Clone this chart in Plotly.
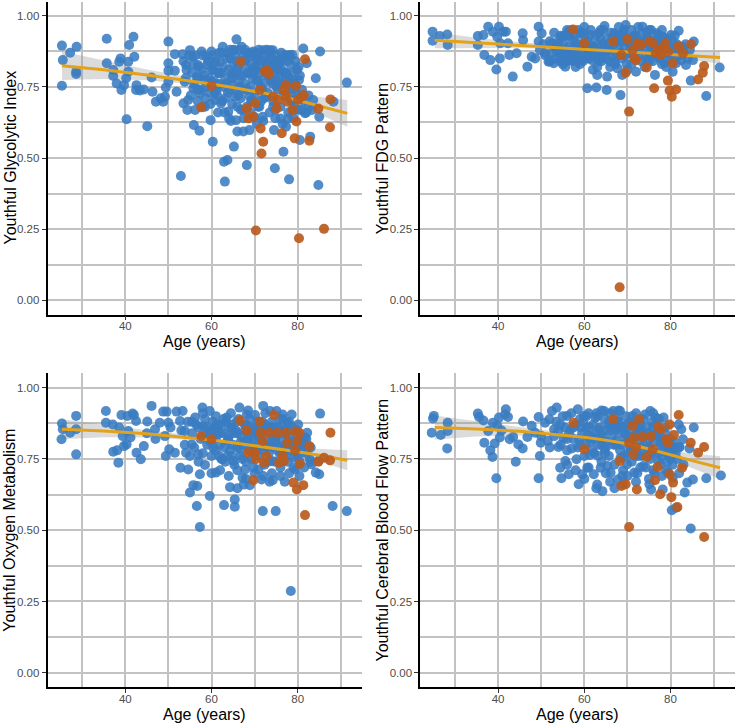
import plotly.graph_objects as go

# ---------------- DATA ----------------
x_ticks = [40, 60, 80]
y_ticks = [0.0, 0.25, 0.5, 0.75, 1.0]
titles = ["Youthful Glycolytic Index", "Youthful FDG Pattern",
          "Youthful Oxygen Metabolism", "Youthful Cerebral Blood Flow Pattern"]
x_title = "Age (years)"

glyco_blue = [(25.3,0.895),(25.5,0.844),(25.3,0.754),(27.2,0.870),(28.7,0.891),(28.6,0.803),(28.6,0.795),(35.7,0.919),(35.7,0.833),(37.2,0.809),(37.2,0.788),(38.0,0.762),(38.6,0.838),(38.9,0.850),(39.1,0.739),(39.7,0.756),(40.2,0.780),(40.3,0.636),(40.7,0.803),(40.9,0.897),(40.7,0.838),(41.9,0.926),(42.1,0.856),(42.6,0.756),(42.5,0.739),(43.4,0.737),(44.3,0.741),(45.1,0.612),(46.1,0.783),(46.3,0.733),(47.1,0.698),(48.2,0.710),(48.8,0.698),(49.2,0.715),(49.4,0.748),(50.0,0.909),(50.0,0.833),(50.0,0.807),(50.0,0.768),(51.5,0.865),(51.5,0.807),(51.9,0.733),(52.9,0.437),(53.3,0.865),(53.5,0.692),(53.8,0.768),(54.1,0.827),(54.2,0.809),(54.6,0.704),(54.4,0.669),(55.0,0.879),(55.6,0.856),(55.8,0.745),(55.9,0.616),(56.2,0.669),(56.6,0.786),(56.9,0.827),(57.2,0.596),(57.3,0.727),(57.7,0.874),(58.1,0.774),(58.5,0.680),(58.9,0.856),(59.0,0.827),(59.5,0.780),(59.8,0.633),(60.0,0.874),(60.3,0.557),(60.4,0.809),(60.8,0.704),(61.2,0.739),(61.6,0.797),(62.0,0.838),(62.2,0.692),(62.6,0.891),(62.9,0.487),(63.1,0.417),(63.5,0.762),(63.7,0.493),(63.9,0.663),(64.1,0.639),(64.3,0.850),(64.7,0.797),(65.1,0.879),(65.2,0.540),(65.4,0.715),(65.7,0.633),(65.8,0.917),(66.0,0.593),(66.2,0.821),(66.6,0.751),(67.0,0.891),(67.2,0.669),(67.4,0.593),(67.8,0.844),(68.2,0.475),(68.3,0.739),(68.5,0.868),(68.8,0.598),(68.9,0.797),(69.3,0.704),(69.7,0.874),(69.9,0.645),(70.1,0.821),(70.5,0.774),(70.9,0.850),(71.1,0.680),(71.4,0.751),(71.9,0.645),(72.0,0.879),(72.4,0.809),(72.8,0.715),(73.2,0.844),(73.6,0.879),(74.0,0.774),(74.2,0.879),(74.3,0.680),(74.5,0.598),(74.7,0.464),(75.1,0.751),(75.5,0.809),(75.9,0.833),(76.0,0.639),(76.3,0.850),(76.7,0.522),(76.8,0.721),(77.0,0.862),(77.3,0.610),(77.4,0.797),(77.8,0.639),(78.0,0.425),(78.2,0.862),(78.3,0.762),(78.6,0.704),(78.8,0.862),(78.9,0.774),(79.3,0.669),(79.7,0.727),(80.3,0.774),(80.5,0.563),(80.9,0.669),(81.3,0.885),(81.7,0.657),(82.1,0.833),(82.5,0.680),(82.9,0.575),(83.3,0.669),(83.6,0.704),(84.2,0.780),(84.8,0.405),(85.0,0.645),(85.2,0.874),(88.3,0.698),(91.4,0.765),
(53.5,0.84),(54.0,0.78),(54.8,0.86),(55.2,0.72),(55.5,0.80),(56.0,0.76),(56.3,0.86),(56.8,0.70),(57.0,0.82),(57.5,0.74),(58.0,0.86),(58.3,0.79),(58.7,0.71),(59.2,0.84),(59.5,0.73),(60.2,0.86),(60.5,0.77),(61.0,0.84),(61.3,0.72),(61.7,0.80),(62.0,0.76),(62.3,0.87),(62.5,0.70),(62.8,0.82),(63.2,0.78),(63.5,0.85),(63.8,0.73),(64.0,0.81),(64.3,0.88),(64.5,0.76),(64.8,0.69),(65.0,0.83),(65.3,0.79),(65.5,0.86),(65.8,0.74),(66.0,0.81),(66.3,0.77),(66.5,0.88),(66.8,0.71),(67.0,0.84),(67.3,0.79),(67.5,0.86),(67.8,0.76),(68.0,0.82),(68.2,0.68),(68.5,0.80),(68.8,0.87),(69.0,0.75),(69.3,0.83),(69.5,0.78),(69.8,0.86),(70.0,0.72),(70.3,0.81),(70.5,0.85),(70.8,0.77),(71.0,0.88),(71.3,0.80),(71.5,0.70),(71.8,0.84),(72.0,0.76),(72.3,0.86),(72.5,0.79),(72.8,0.83),(73.0,0.73),(73.3,0.87),(73.5,0.81),(73.8,0.77),(74.0,0.85),(74.3,0.70),(74.5,0.82),(74.8,0.78),(75.0,0.86),(75.3,0.74),(75.5,0.83),(75.8,0.79),(76.0,0.68),(76.3,0.81),(76.5,0.76),(76.8,0.85),(77.0,0.72),(77.3,0.80),(77.5,0.84),(77.8,0.66),(78.0,0.78),(78.3,0.83),(78.5,0.70),(78.8,0.80),(79.0,0.64),(79.3,0.76),(79.5,0.84),(80.0,0.71),(80.3,0.67),(80.5,0.79),(81.0,0.74),(81.5,0.70),(82.0,0.66),(82.5,0.72),(63.0,0.66),(64.5,0.63),(66.0,0.68),(67.5,0.64),(69.0,0.66),(70.5,0.62),(72.0,0.63),(73.5,0.66),(74.8,0.64),(76.5,0.62),(58.0,0.68),(59.8,0.69),(61.5,0.66),(60.0,0.81),(57.0,0.78)]
glyco_blue_extra = [(60.8,0.83),(61.8,0.87),(62.8,0.75),(63.8,0.87),(64.8,0.78),(65.8,0.84),(66.8,0.79),(67.8,0.88),(68.8,0.72),(69.8,0.80),(70.8,0.86),(71.8,0.74),(72.8,0.88),(73.8,0.82),(74.8,0.84),(75.8,0.76),(76.8,0.80),(77.8,0.86),(78.8,0.74),(79.8,0.81),(61.2,0.76),(62.2,0.80),(63.2,0.71),(64.2,0.74),(65.2,0.88),(66.2,0.72),(67.2,0.74),(68.2,0.85),(69.2,0.70),(70.2,0.87),(71.2,0.83),(72.2,0.71),(73.2,0.79),(74.2,0.76),(75.2,0.81),(76.2,0.87),(77.2,0.78),(78.2,0.74),(79.2,0.70),(80.2,0.82),(55.8,0.83),(57.8,0.81),(59.8,0.77),(56.8,0.74),(58.8,0.75),(60.8,0.73),(66.8,0.67),(70.8,0.68),(74.8,0.67),(78.8,0.67)]

glyco_orange = [(57.6,0.678),(60.0,0.753),(66.8,0.838),(70.3,0.245),(68.2,0.674),(68.6,0.639),(69.7,0.645),(70.1,0.692),(71.2,0.739),(71.4,0.604),(72.0,0.557),(71.6,0.516),(72.4,0.803),(72.8,0.809),(73.4,0.795),(74.3,0.715),(75.1,0.674),(75.5,0.704),(76.3,0.587),(76.7,0.739),(77.3,0.756),(77.3,0.721),(77.6,0.698),(78.8,0.669),(79.3,0.569),(79.6,0.753),(79.7,0.628),(80.1,0.704),(80.3,0.218),(80.9,0.715),(81.4,0.721),(81.7,0.847),(82.7,0.561),(84.8,0.674),(86.1,0.251),(87.5,0.608),(87.6,0.706)]

fdg_blue = [(24.8,0.944),(24.8,0.912),(26.5,0.929),(28.2,0.934),(28.3,0.897),(35.3,0.929),(35.3,0.897),(36.6,0.932),(36.8,0.862),(37.7,0.961),(38.2,0.844),(38.8,0.944),(39.6,0.811),(39.8,0.926),(40.2,0.961),(40.4,0.850),(40.5,0.903),(41.2,0.944),(41.8,0.944),(42.3,0.903),(42.6,0.862),(43.4,0.786),(44.3,0.868),(45.7,0.938),(45.8,0.914),(46.8,0.821),(47.8,0.856),(48.6,0.850),(49.4,0.961),(49.4,0.909),(49.7,0.879),(50.1,0.938),(50.9,0.868),(51.7,0.838),(52.5,0.903),(52.9,0.833),(53.6,0.891),(54.4,0.856),(54.8,0.926),(55.6,0.821),(56.0,0.879),(56.4,0.944),(56.8,0.844),(57.5,0.914),(57.9,0.862),(58.3,0.891),(59.1,0.938),(59.5,0.856),(59.9,0.903),(60.7,0.745),(61.0,0.879),(61.4,0.932),(61.8,0.844),(62.2,0.891),(62.8,0.748),(63.0,0.792),(63.4,0.856),(63.8,0.950),(64.2,0.903),(64.7,0.964),(65.2,0.739),(65.3,0.786),(65.7,0.879),(66.1,0.838),(66.9,0.938),(67.3,0.909),(67.7,0.815),(68.4,0.721),(68.8,0.792),(69.2,0.950),(69.6,0.967),(70.0,0.868),(70.8,0.903),(71.6,0.926),(72.0,0.803),(72.7,0.879),(73.5,0.961),(73.9,0.914),(74.5,0.844),(75.1,0.950),(75.9,0.891),(76.4,0.792),(76.9,0.938),(77.2,0.856),(77.8,0.903),(78.2,0.926),(78.6,0.833),(79.4,0.868),(80.1,0.932),(80.5,0.803),(81.3,0.833),(81.9,0.947),(82.5,0.844),(82.9,0.891),(83.6,0.827),(84.7,0.772),(85.2,0.844),(85.4,0.909),(88.3,0.718),(91.4,0.818),
(52.0,0.91),(52.5,0.87),(53.0,0.94),(53.3,0.85),(53.8,0.90),(54.2,0.88),(54.5,0.93),(55.0,0.86),(55.3,0.91),(55.8,0.84),(56.2,0.89),(56.6,0.93),(57.0,0.87),(57.3,0.84),(57.8,0.92),(58.2,0.88),(58.6,0.95),(59.0,0.86),(59.3,0.90),(59.7,0.84),(60.0,0.93),(60.4,0.88),(60.8,0.91),(61.2,0.85),(61.5,0.95),(61.9,0.89),(62.3,0.86),(62.6,0.93),(63.0,0.90),(63.3,0.84),(63.7,0.92),(64.0,0.87),(64.4,0.95),(64.7,0.89),(65.0,0.85),(65.4,0.92),(65.8,0.88),(66.2,0.94),(66.5,0.86),(66.9,0.90),(67.2,0.83),(67.6,0.93),(68.0,0.88),(68.3,0.91),(68.7,0.85),(69.0,0.94),(69.4,0.89),(69.8,0.83),(70.2,0.92),(70.5,0.87),(70.9,0.95),(71.3,0.89),(71.7,0.85),(72.0,0.93),(72.4,0.88),(72.8,0.91),(73.2,0.84),(73.6,0.94),(74.0,0.89),(74.3,0.86),(74.7,0.92),(75.1,0.87),(75.5,0.95),(75.9,0.84),(76.3,0.91),(76.7,0.88),(77.1,0.93),(77.5,0.85),(77.9,0.90),(78.3,0.87),(78.7,0.92),(79.1,0.84),(79.5,0.89),(80.0,0.86),(80.5,0.91),(81.0,0.85),(81.5,0.88),(82.0,0.86),(83.0,0.87),(84.0,0.85),(58.0,0.82),(62.0,0.81),(66.0,0.82),(70.0,0.81),(74.0,0.82),(78.0,0.83),(56.0,0.95),(60.0,0.96),(68.0,0.96),(72.5,0.96),(64.0,0.84),(68.5,0.87),(76.0,0.90),(61.0,0.88),(55.5,0.88),(50.5,0.90),(51.0,0.86)]
fdg_blue_extra = [(53.5,0.88),(54.5,0.84),(55.5,0.93),(56.5,0.86),(57.5,0.89),(58.5,0.84),(59.5,0.94),(60.5,0.85),(61.5,0.90),(62.5,0.88),(63.5,0.94),(64.5,0.86),(65.5,0.90),(66.5,0.92),(67.5,0.86),(68.5,0.93),(69.5,0.86),(70.5,0.90),(71.5,0.93),(72.5,0.86),(73.5,0.90),(74.5,0.94),(75.5,0.89),(76.5,0.86),(77.5,0.91),(78.5,0.89),(79.5,0.92),(80.5,0.88),(81.5,0.90),(82.5,0.87),(54.0,0.91),(57.0,0.95),(60.0,0.90),(63.0,0.87),(66.0,0.88),(69.0,0.91),(72.0,0.89),(75.0,0.92),(78.0,0.95),(81.0,0.93),(52.0,0.84),(55.0,0.83),(59.0,0.83),(63.0,0.82),(67.0,0.84),(71.0,0.83),(75.0,0.84),(79.0,0.82),(84.5,0.88),(83.5,0.90)]

fdg_orange = [(57.4,0.952),(60.0,0.903),(66.7,0.909),(68.2,0.046),(68.6,0.862),(69.6,0.800),(70.0,0.917),(70.4,0.663),(71.2,0.879),(71.6,0.850),(72.0,0.844),(72.3,0.903),(73.1,0.897),(74.5,0.818),(75.1,0.909),(75.9,0.903),(76.2,0.745),(76.6,0.868),(77.2,0.879),(77.8,0.862),(78.2,0.885),(78.8,0.903),(79.4,0.772),(79.5,0.874),(79.8,0.737),(80.3,0.715),(80.5,0.833),(81.3,0.741),(81.9,0.893),(82.9,0.868),(84.8,0.900),(86.4,0.776),(87.5,0.800),(87.8,0.823)]

oxy_blue = [(25.3,0.874),(25.5,0.854),(25.2,0.819),(27.2,0.842),(28.6,0.901),(28.6,0.854),(28.6,0.766),(35.5,0.918),(35.5,0.877),(37.1,0.871),(37.2,0.775),(38.1,0.780),(38.4,0.737),(38.6,0.860),(39.1,0.904),(39.4,0.830),(39.7,0.795),(40.3,0.801),(40.5,0.901),(40.7,0.848),(41.2,0.825),(41.7,0.909),(42.0,0.904),(42.5,0.883),(42.6,0.772),(43.6,0.749),(44.3,0.795),(45.1,0.881),(46.1,0.936),(46.9,0.854),(48.0,0.877),(48.8,0.916),(49.2,0.830),(49.4,0.760),(49.6,0.916),(50.0,0.877),(50.2,0.784),(50.5,0.860),(51.5,0.772),(51.9,0.916),(52.7,0.883),(52.8,0.719),(53.3,0.918),(53.8,0.848),(54.1,0.772),(54.6,0.713),(55.0,0.632),(55.4,0.801),(55.8,0.658),(56.2,0.895),(56.6,0.585),(56.7,0.655),(56.9,0.766),(57.3,0.511),(57.3,0.696),(57.9,0.930),(58.1,0.865),(58.5,0.729),(59.0,0.825),(59.6,0.620),(59.6,0.918),(60.4,0.789),(61.0,0.702),(61.2,0.871),(62.0,0.842),(62.6,0.749),(62.9,0.588),(63.5,0.895),(63.9,0.813),(64.3,0.651),(64.7,0.860),(65.1,0.743),(65.4,0.608),(65.4,0.582),(66.0,0.647),(66.5,0.930),(66.6,0.784),(67.2,0.684),(67.8,0.713),(68.2,0.906),(68.5,0.813),(68.9,0.658),(69.3,0.749),(70.1,0.904),(70.5,0.848),(70.9,0.713),(71.6,0.678),(71.9,0.567),(72.0,0.936),(72.4,0.871),(73.2,0.801),(73.6,0.918),(74.0,0.743),(74.2,0.675),(74.3,0.825),(74.9,0.567),(75.1,0.918),(75.5,0.860),(75.9,0.766),(76.5,0.906),(77.0,0.670),(77.3,0.836),(77.6,0.877),(78.0,0.801),(78.4,0.287),(78.6,0.906),(79.0,0.754),(79.4,0.713),(80.1,0.871),(80.4,0.690),(80.9,0.795),(81.7,0.825),(82.2,0.842),(82.8,0.749),(83.2,0.731),(84.2,0.702),(84.8,0.743),(85.0,0.696),(85.2,0.909),(88.1,0.585),(91.4,0.567),
(53.0,0.85),(53.8,0.80),(54.5,0.88),(55.0,0.76),(55.5,0.84),(56.0,0.79),(56.5,0.87),(57.0,0.74),(57.5,0.82),(58.0,0.77),(58.5,0.89),(59.0,0.80),(59.5,0.85),(60.0,0.76),(60.3,0.88),(60.7,0.82),(61.0,0.78),(61.5,0.86),(62.0,0.80),(62.3,0.75),(62.7,0.84),(63.0,0.79),(63.3,0.88),(63.7,0.76),(64.0,0.83),(64.3,0.78),(64.7,0.87),(65.0,0.80),(65.3,0.73),(65.7,0.85),(66.0,0.79),(66.3,0.89),(66.7,0.76),(67.0,0.83),(67.3,0.80),(67.7,0.87),(68.0,0.74),(68.3,0.82),(68.7,0.78),(69.0,0.86),(69.3,0.80),(69.7,0.72),(70.0,0.84),(70.3,0.79),(70.7,0.88),(71.0,0.76),(71.3,0.82),(71.7,0.85),(72.0,0.78),(72.3,0.73),(72.7,0.86),(73.0,0.81),(73.3,0.77),(73.7,0.84),(74.0,0.88),(74.3,0.79),(74.7,0.74),(75.0,0.83),(75.3,0.78),(75.7,0.86),(76.0,0.72),(76.3,0.81),(76.7,0.77),(77.0,0.85),(77.3,0.80),(77.7,0.74),(78.0,0.83),(78.3,0.78),(78.7,0.86),(79.0,0.72),(79.3,0.80),(79.7,0.76),(80.0,0.83),(80.5,0.74),(81.0,0.79),(81.5,0.72),(82.0,0.77),(83.0,0.74),(60.0,0.70),(62.0,0.71),(64.0,0.69),(66.0,0.71),(68.0,0.68),(70.0,0.70),(72.0,0.69),(74.0,0.70),(76.0,0.69),(78.0,0.70),(64.5,0.91),(68.5,0.92),(72.5,0.91),(76.5,0.89),(58.0,0.91),(61.0,0.90),(67.5,0.66),(73.5,0.67),(45.0,0.84),(47.0,0.82)]
oxy_blue_extra = [(58.8,0.86),(59.8,0.81),(60.8,0.86),(61.8,0.76),(62.8,0.89),(63.8,0.82),(64.8,0.76),(65.8,0.88),(66.8,0.81),(67.8,0.85),(68.8,0.89),(69.8,0.77),(70.8,0.82),(71.8,0.88),(72.8,0.79),(73.8,0.86),(74.8,0.81),(75.8,0.89),(76.8,0.79),(77.8,0.87),(78.8,0.81),(79.8,0.85),(80.8,0.77),(61.2,0.83),(63.2,0.74),(65.2,0.84),(67.2,0.75),(69.2,0.83),(71.2,0.79),(73.2,0.74),(75.2,0.80),(77.2,0.76),(79.2,0.78),(81.2,0.81),(55.5,0.88),(57.0,0.86),(58.0,0.83),(60.0,0.84),(62.0,0.87),(64.0,0.86),(66.0,0.84),(68.0,0.87),(70.0,0.86),(72.0,0.84),(74.0,0.86),(76.0,0.84),(78.0,0.88),(80.0,0.80),(82.0,0.82),(83.0,0.79)]

oxy_orange = [(57.6,0.830),(60.0,0.819),(66.6,0.885),(68.2,0.850),(68.5,0.772),(69.7,0.675),(70.1,0.772),(70.3,0.749),(71.2,0.881),(71.4,0.842),(71.9,0.813),(72.2,0.737),(72.7,0.760),(73.4,0.842),(74.5,0.904),(75.3,0.842),(75.7,0.737),(76.5,0.760),(76.8,0.743),(77.3,0.842),(77.6,0.807),(79.0,0.667),(79.4,0.846),(79.4,0.780),(79.8,0.643),(79.9,0.813),(80.4,0.842),(80.5,0.733),(81.3,0.658),(81.7,0.553),(82.7,0.795),(84.8,0.740),(86.1,0.754),(87.5,0.745),(87.6,0.842)]

cbf_blue = [(24.6,0.842),(24.9,0.892),(25.1,0.901),(26.7,0.834),(28.2,0.787),(28.3,0.848),(28.3,0.877),(35.3,0.909),(35.6,0.897),(36.6,0.885),(36.8,0.807),(37.7,0.848),(38.2,0.780),(38.7,0.757),(38.8,0.877),(39.2,0.804),(39.6,0.682),(39.8,0.866),(40.2,0.895),(40.4,0.825),(40.8,0.850),(41.6,0.906),(41.8,0.924),(42.3,0.897),(42.7,0.819),(43.5,0.827),(44.1,0.740),(44.7,0.801),(45.7,0.787),(45.8,0.881),(46.8,0.827),(47.8,0.866),(48.6,0.842),(49.4,0.682),(49.4,0.897),(49.7,0.760),(49.9,0.807),(50.9,0.877),(51.5,0.813),(51.9,0.889),(52.5,0.918),(53.0,0.854),(53.6,0.930),(54.0,0.792),(54.4,0.719),(54.7,0.682),(55.2,0.822),(55.6,0.743),(56.0,0.901),(56.4,0.696),(56.8,0.854),(57.1,0.787),(58.2,0.749),(58.5,0.924),(58.7,0.661),(59.1,0.860),(59.5,0.696),(59.9,0.901),(60.3,0.801),(60.7,0.719),(61.3,0.764),(61.6,0.830),(62.2,0.696),(62.6,0.895),(62.8,0.647),(63.4,0.854),(63.8,0.719),(64.2,0.637),(64.6,0.918),(64.7,0.784),(65.3,0.725),(65.7,0.871),(66.1,0.702),(66.7,0.918),(67.0,0.647),(67.3,0.813),(67.8,0.678),(68.3,0.918),(68.4,0.754),(68.8,0.690),(69.4,0.842),(69.9,0.731),(70.4,0.877),(70.8,0.784),(71.2,0.901),(71.6,0.702),(72.0,0.830),(72.5,0.760),(73.1,0.866),(73.7,0.725),(74.1,0.906),(74.7,0.789),(75.1,0.661),(75.3,0.918),(75.5,0.643),(76.2,0.836),(76.6,0.895),(77.2,0.743),(77.6,0.807),(78.2,0.643),(78.4,0.895),(79.0,0.772),(79.4,0.702),(80.3,0.570),(80.5,0.684),(80.9,0.784),(81.3,0.579),(81.9,0.871),(82.1,0.792),(82.5,0.854),(82.9,0.819),(83.3,0.632),(83.9,0.667),(84.4,0.787),(84.7,0.506),(85.2,0.678),(85.4,0.860),(88.3,0.682),(91.7,0.692),
(53.0,0.83),(53.5,0.88),(54.0,0.85),(54.5,0.80),(55.0,0.90),(55.5,0.86),(56.0,0.78),(56.5,0.84),(57.0,0.91),(57.5,0.82),(58.0,0.87),(58.5,0.79),(59.0,0.89),(59.5,0.84),(60.0,0.76),(60.5,0.86),(61.0,0.91),(61.5,0.81),(62.0,0.87),(62.3,0.77),(62.7,0.84),(63.0,0.90),(63.3,0.80),(63.7,0.86),(64.0,0.74),(64.3,0.83),(64.7,0.89),(65.0,0.79),(65.3,0.85),(65.7,0.76),(66.0,0.91),(66.3,0.82),(66.7,0.87),(67.0,0.73),(67.3,0.80),(67.7,0.89),(68.0,0.84),(68.3,0.78),(68.7,0.86),(69.0,0.71),(69.3,0.82),(69.7,0.90),(70.0,0.77),(70.3,0.85),(70.7,0.80),(71.0,0.74),(71.3,0.88),(71.7,0.83),(72.0,0.78),(72.3,0.70),(72.7,0.85),(73.0,0.81),(73.3,0.76),(73.7,0.89),(74.0,0.83),(74.3,0.72),(74.7,0.86),(75.0,0.79),(75.3,0.75),(75.7,0.88),(76.0,0.81),(76.3,0.70),(76.7,0.84),(77.0,0.77),(77.3,0.89),(77.7,0.73),(78.0,0.82),(78.3,0.78),(78.7,0.86),(79.0,0.71),(79.3,0.80),(79.7,0.76),(80.0,0.82),(80.5,0.73),(81.0,0.79),(81.5,0.75),(82.0,0.70),(83.0,0.73),(60.0,0.68),(63.0,0.66),(66.0,0.67),(69.0,0.66),(72.0,0.67),(75.0,0.68),(78.0,0.69),(61.0,0.72),(65.0,0.70),(70.0,0.69),(73.0,0.72),(76.0,0.71),(56.0,0.73),(58.0,0.71),(64.0,0.92),(68.0,0.92),(72.0,0.91),(76.0,0.91),(50.0,0.83),(52.0,0.79)]
cbf_blue_extra = [(58.8,0.82),(59.8,0.88),(60.8,0.83),(61.8,0.78),(62.8,0.91),(63.8,0.83),(64.8,0.77),(65.8,0.88),(66.8,0.80),(67.8,0.86),(68.8,0.80),(69.8,0.87),(70.8,0.82),(71.8,0.76),(72.8,0.88),(73.8,0.80),(74.8,0.84),(75.8,0.77),(76.8,0.87),(77.8,0.80),(78.8,0.84),(79.8,0.78),(80.8,0.81),(61.2,0.86),(63.2,0.76),(65.2,0.81),(67.2,0.85),(69.2,0.76),(71.2,0.80),(73.2,0.85),(75.2,0.82),(77.2,0.83),(79.2,0.74),(81.2,0.77),(54.5,0.87),(56.0,0.82),(57.5,0.86),(59.0,0.80),(60.5,0.90),(62.0,0.82),(64.0,0.80),(66.0,0.85),(68.0,0.88),(70.0,0.83),(72.0,0.86),(74.0,0.78),(76.0,0.86),(78.0,0.76),(80.0,0.75),(82.0,0.79)]

cbf_orange = [(57.5,0.877),(60.0,0.784),(66.7,0.889),(68.2,0.743),(68.6,0.655),(69.6,0.661),(70.4,0.511),(70.4,0.807),(71.2,0.866),(71.4,0.766),(71.6,0.825),(72.0,0.792),(72.2,0.643),(72.7,0.889),(73.5,0.827),(74.5,0.757),(75.5,0.830),(75.9,0.784),(76.4,0.675),(77.0,0.722),(77.2,0.862),(77.6,0.626),(77.8,0.854),(79.0,0.819),(79.4,0.807),(79.8,0.871),(79.8,0.696),(80.2,0.616),(80.6,0.667),(80.8,0.834),(81.6,0.581),(81.9,0.904),(82.7,0.719),(84.7,0.807),(86.4,0.772),(87.8,0.476),(87.8,0.792)]

# smoother: age grid, fitted value, half-width of band
fit_age = [25.3, 35, 45, 55, 60, 65, 70, 75, 80, 85, 91.5]
glyco_fit = [0.824, 0.810, 0.792, 0.772, 0.760, 0.748, 0.735, 0.720, 0.703, 0.684, 0.657]
glyco_se = [0.050, 0.032, 0.019, 0.012, 0.010, 0.010, 0.011, 0.014, 0.020, 0.030, 0.047]
fdg_fit = [0.914, 0.905, 0.897, 0.889, 0.884, 0.879, 0.874, 0.869, 0.864, 0.859, 0.853]
fdg_se = [0.028, 0.018, 0.010, 0.007, 0.006, 0.006, 0.006, 0.007, 0.010, 0.014, 0.022]
oxy_fit = [0.854, 0.848, 0.838, 0.825, 0.816, 0.807, 0.797, 0.786, 0.775, 0.763, 0.745]
oxy_se = [0.035, 0.022, 0.013, 0.009, 0.008, 0.008, 0.008, 0.010, 0.014, 0.022, 0.035]
cbf_fit = [0.860, 0.855, 0.847, 0.834, 0.826, 0.816, 0.803, 0.785, 0.764, 0.744, 0.719]
cbf_se = [0.042, 0.026, 0.015, 0.010, 0.009, 0.009, 0.010, 0.012, 0.016, 0.025, 0.040]

# ---------------- STYLE / LAYOUT ----------------
W, H = 735, 723
BLUE = "rgba(58,124,194,0.88)"
ORANGE = "rgba(186,92,31,0.92)"
LINE = "#E3A21A"
GRID = "#c2c2c2"
FONT = "Liberation Sans, Arial, sans-serif"

# pixel boxes (left, right, top, bottom)
boxes = [(47.5, 361.7, 1.5, 314.5), (420.3, 734.5, 1.5, 314.5),
         (47.5, 361.7, 373.4, 687.0), (420.3, 734.5, 373.4, 687.0)]

panels = [(glyco_blue + glyco_blue_extra, glyco_orange, glyco_fit, glyco_se),
          (fdg_blue + fdg_blue_extra, fdg_orange, fdg_fit, fdg_se),
          (oxy_blue + oxy_blue_extra, oxy_orange, oxy_fit, oxy_se),
          (cbf_blue + cbf_blue_extra, cbf_orange, cbf_fit, cbf_se)]

fig = go.Figure()
annotations = []
layout_axes = {}
for i, ((blue, orange, fit, se), box) in enumerate(zip(panels, boxes)):
    n = "" if i == 0 else str(i + 1)
    xr, yr = "x" + n, "y" + n
    l, r, t, b = box
    lower = [f - s for f, s in zip(fit, se)]
    upper = [f + s for f, s in zip(fit, se)]
    fig.add_trace(go.Scatter(x=fit_age + fit_age[::-1], y=upper + lower[::-1], fill="toself",
                             fillcolor="rgba(153,153,153,0.35)", line=dict(width=0),
                             mode="lines", hoverinfo="skip", showlegend=False, xaxis=xr, yaxis=yr))
    fig.add_trace(go.Scatter(x=[p[0] for p in blue], y=[p[1] for p in blue], mode="markers",
                             marker=dict(size=10, color=BLUE, line=dict(width=0)),
                             showlegend=False, xaxis=xr, yaxis=yr))
    fig.add_trace(go.Scatter(x=fit_age, y=fit, mode="lines", line=dict(color=LINE, width=3),
                             showlegend=False, xaxis=xr, yaxis=yr))
    fig.add_trace(go.Scatter(x=[p[0] for p in orange], y=[p[1] for p in orange], mode="markers",
                             marker=dict(size=10, color=ORANGE, line=dict(width=0)),
                             showlegend=False, xaxis=xr, yaxis=yr))
    common = dict(showline=True, linecolor="black", linewidth=1.8, ticks="outside", ticklen=4,
                  tickwidth=1.2, tickcolor="#333333", showgrid=True, gridcolor=GRID, gridwidth=1.5,
                  zeroline=False, tickfont=dict(family=FONT, size=11.5, color="#4d4d4d"),
                  automargin=False, mirror=False)
    layout_axes["xaxis" + n] = dict(common, domain=[l / W, r / W], range=[21.95, 94.85],
                                    tickvals=x_ticks, anchor=yr, ticklabelstandoff=-4,
                                    minor=dict(dtick=10, tick0=0, showgrid=True, gridcolor=GRID, gridwidth=1.5))
    layout_axes["yaxis" + n] = dict(common, domain=[1 - b / H, 1 - t / H], range=[-0.05, 1.05],
                                    tickvals=y_ticks, tickformat=".2f", anchor=xr,
                                    minor=dict(dtick=0.125, tick0=0, showgrid=True, gridcolor=GRID, gridwidth=1.5))
    # axis titles
    annotations.append(dict(text=x_title, x=((l + r) / 2) / W, y=1 - (b + 27) / H, xref="paper", yref="paper",
                            showarrow=False, xanchor="center", yanchor="middle",
                            font=dict(family=FONT, size=16, color="black")))
    annotations.append(dict(text=titles[i], x=(l - 38) / W, y=1 - ((t + b) / 2) / H, xref="paper", yref="paper",
                            showarrow=False, xanchor="center", yanchor="middle", textangle=-90,
                            font=dict(family=FONT, size=16, color="black")))

fig.update_layout(width=W, height=H, margin=dict(l=0, r=0, t=0, b=0), paper_bgcolor="white",
                  plot_bgcolor="white", annotations=annotations, showlegend=False, **layout_axes)
fig.write_html("out.html", config={"displayModeBar": False},
               post_script="document.body.style.margin='0px';document.body.style.overflow='hidden';")
